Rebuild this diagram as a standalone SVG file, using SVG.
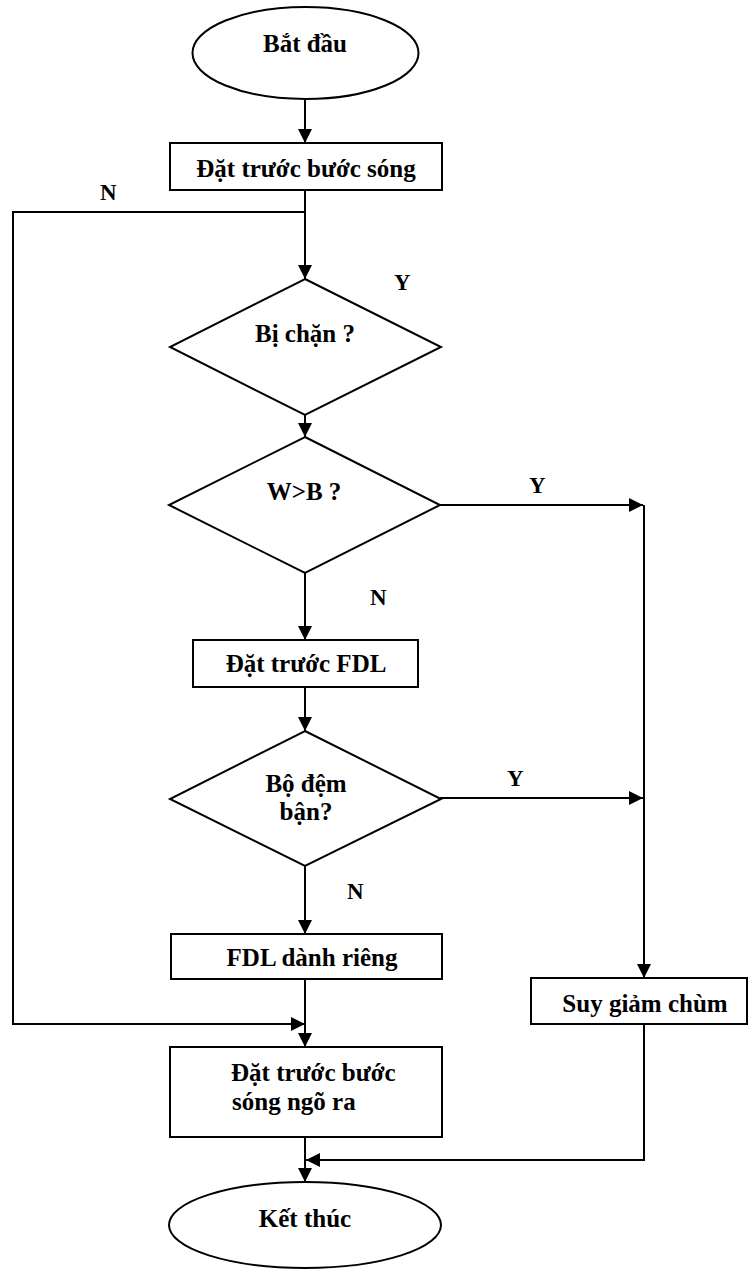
<svg xmlns="http://www.w3.org/2000/svg" width="748" height="1270" viewBox="0 0 748 1270">
  <style>
    .shape { fill: #ffffff; stroke: #000000; stroke-width: 2; }
    .wire { fill: none; stroke: #000000; stroke-width: 2; }
    .txt { font-family: "Liberation Serif", "Times New Roman", serif; font-weight: bold; font-size: 25px; fill: #000000; }
    .mid { text-anchor: middle; }
    .lbl { font-family: "Liberation Serif", "Times New Roman", serif; font-weight: bold; font-size: 23px; fill: #000000; }
  </style>
  <defs>
    <marker id="arrow" markerUnits="userSpaceOnUse" markerWidth="14" markerHeight="14" viewBox="0 0 14 14" refX="14" refY="7" orient="auto">
      <path d="M0,0 L14,7 L0,14 Z" fill="#000000"/>
    </marker>
  </defs>

  <!-- connectors -->
  <g id="connectors">
    <line class="wire" x1="305" y1="99" x2="305" y2="143" marker-end="url(#arrow)"/>
    <line class="wire" x1="305" y1="190" x2="305" y2="279" marker-end="url(#arrow)"/>
    <polyline class="wire" points="305,212 13,212 13,1024 305,1024" marker-end="url(#arrow)"/>
    <line class="wire" x1="305" y1="415" x2="305" y2="437" marker-end="url(#arrow)"/>
    <line class="wire" x1="440" y1="505" x2="643" y2="505" marker-end="url(#arrow)"/>
    <line class="wire" x1="305" y1="573" x2="305" y2="640" marker-end="url(#arrow)"/>
    <line class="wire" x1="305" y1="687" x2="305" y2="731" marker-end="url(#arrow)"/>
    <line class="wire" x1="440" y1="798" x2="643" y2="798" marker-end="url(#arrow)"/>
    <line class="wire" x1="644" y1="505" x2="644" y2="978" marker-end="url(#arrow)"/>
    <line class="wire" x1="305" y1="866" x2="305" y2="934" marker-end="url(#arrow)"/>
    <line class="wire" x1="305" y1="979" x2="305" y2="1047" marker-end="url(#arrow)"/>
    <line class="wire" x1="305" y1="1137" x2="305" y2="1182" marker-end="url(#arrow)"/>
    <polyline class="wire" points="644,1024 644,1160 306,1160" marker-end="url(#arrow)"/>

    <text class="lbl" x="100" y="200">N</text>
    <text class="lbl" x="394" y="290">Y</text>
    <text class="lbl" x="529" y="493">Y</text>
    <text class="lbl" x="370" y="605">N</text>
    <text class="lbl" x="507" y="786">Y</text>
    <text class="lbl" x="347" y="899">N</text>
  </g>

  <g id="start">
    <ellipse class="shape" cx="305.5" cy="53" rx="113" ry="46"/>
    <text class="txt mid" x="305" y="52">Bắt đầu</text>
  </g>

  <g id="preset-wavelength">
    <rect class="shape" x="170" y="143" width="272" height="47"/>
    <text class="txt mid" x="306" y="177">Đặt trước bước sóng</text>
  </g>

  <g id="blocked">
    <polygon class="shape" points="305,279 441,347 305,415 170,347"/>
    <text class="txt mid" x="305" y="342">Bị chặn ?</text>
  </g>

  <g id="w-gt-b">
    <polygon class="shape" points="305,437 440,505 305,573 169,505"/>
    <text class="txt mid" x="304" y="500">W&gt;B ?</text>
  </g>

  <g id="preset-fdl">
    <rect class="shape" x="193" y="640" width="225" height="47"/>
    <text class="txt mid" x="306" y="672">Đặt trước FDL</text>
  </g>

  <g id="buffer-busy">
    <polygon class="shape" points="305,731 441,799 305,866 170,799"/>
    <text class="txt mid" x="306" y="792">Bộ đệm</text>
    <text class="txt mid" x="306" y="820">bận?</text>
  </g>

  <g id="reserved-fdl">
    <rect class="shape" x="171" y="934" width="271" height="45"/>
    <text class="txt mid" x="312" y="966">FDL dành riêng</text>
  </g>

  <g id="beam-attenuation">
    <rect class="shape" x="531" y="978" width="216" height="46"/>
    <text class="txt mid" x="645" y="1012">Suy giảm chùm</text>
  </g>

  <g id="preset-output">
    <rect class="shape" x="170" y="1047" width="272" height="90"/>
    <text class="txt" x="231" y="1081">Đặt trước bước</text>
    <text class="txt" x="232" y="1110">sóng ngõ ra</text>
  </g>

  <g id="end">
    <ellipse class="shape" cx="305" cy="1225" rx="136" ry="43"/>
    <text class="txt mid" x="305" y="1227">Kết thúc</text>
  </g>
</svg>
